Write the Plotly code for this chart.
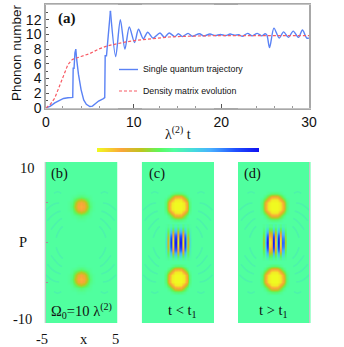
import plotly.graph_objects as go

# panel (a) values
t_jump = [0, 0.5, 1, 1.5, 2, 2.5, 3.05, 3.1, 3.2, 3.3, 3.4, 3.5, 3.7, 4.0, 4.3, 4.6, 5, 5.3, 5.6, 6, 6.5, 6.7, 6.75, 6.9, 7.0, 7.2, 7.35]
n_jump = [0, 0.25, 0.7, 1.05, 1.3, 1.4, 1.45, 5.4, 5.4, 7.5, 8.0, 6.6, 4.6, 2.5, 1.1, 0.5, 0.2, 0.25, 0.55, 0.95, 1.25, 1.4, 7.1, 7.1, 8.5, 12, 13.2]
t_osc = [7.35, 7.95, 8.48, 9.0, 9.5, 10.1, 10.55, 11.1, 11.6, 12.2, 13, 13.5, 14.05, 14.7, 15.1, 15.55, 16.2, 16.7, 17.5, 18, 18.7, 19.3, 19.9, 20.5, 21, 21.5, 22, 22.4, 23, 23.5, 24.1, 24.6, 25, 25.2, 25.5, 26, 26.6, 27.1, 27.65, 28.2, 28.8, 29.25, 29.75, 30]
n_osc = [13.2, 7.0, 12, 8.0, 11, 8.9, 10.7, 9.4, 10.3, 9.5, 10.2, 9.6, 10.2, 9.7, 10.1, 9.7, 10.15, 9.75, 10.1, 9.8, 10.05, 9.85, 10, 9.85, 10.05, 9.9, 9.95, 9.75, 10.15, 9.8, 10.15, 9.8, 10.1, 9.9, 8.2, 10.85, 9.5, 10.35, 9.6, 10.45, 9.6, 10.6, 9.5, 9.5]
t_dm = [0, 0.5, 1, 1.5, 2, 2.5, 3, 3.5, 4, 5, 6, 7, 8, 9, 10, 12, 14, 16, 18, 20, 22, 25, 30]
n_dm = [0, 0.5, 1.35, 2.9, 4.5, 5.9, 6.6, 6.85, 7.0, 7.4, 8.0, 8.45, 8.75, 8.95, 9.15, 9.4, 9.65, 9.75, 9.85, 9.85, 9.85, 9.85, 9.85]

# Wigner panels, small grids around each feature (0 = yellow end, 1 = blue end)
blob_axis = [-2, -1.6, -1.2, -0.8, -0.4, 0, 0.4, 0.8, 1.2, 1.6, 2]
blob_b = [
    [.47, .47, .47, .47, .47, .47, .47, .47, .47, .47, .47],
    [.47, .47, .47, .47, .46, .46, .46, .47, .47, .47, .47],
    [.47, .47, .46, .45, .43, .41, .43, .45, .46, .47, .47],
    [.47, .47, .45, .38, .31, .27, .31, .38, .45, .47, .47],
    [.47, .46, .43, .31, .19, .15, .19, .31, .43, .46, .47],
    [.47, .46, .41, .27, .15, .13, .15, .27, .41, .46, .47],
    [.47, .46, .43, .31, .19, .15, .19, .31, .43, .46, .47],
    [.47, .47, .45, .38, .31, .27, .31, .38, .45, .47, .47],
    [.47, .47, .46, .45, .43, .41, .43, .45, .46, .47, .47],
    [.47, .47, .47, .47, .46, .46, .46, .47, .47, .47, .47],
    [.47, .47, .47, .47, .47, .47, .47, .47, .47, .47, .47],
]
blob_cd = [
    [.47, .47, .47, .47, .47, .47, .47, .47, .47, .47, .47],
    [.47, .47, .47, .44, .41, .40, .41, .44, .47, .47, .47],
    [.47, .47, .42, .30, .17, .15, .17, .30, .42, .47, .47],
    [.47, .44, .30, .15, .03, .02, .03, .15, .30, .44, .47],
    [.47, .41, .17, .03, 0, 0, 0, .03, .17, .41, .47],
    [.47, .40, .15, .02, 0, 0, 0, .02, .15, .40, .47],
    [.47, .41, .17, .03, 0, 0, 0, .03, .17, .41, .47],
    [.47, .44, .30, .15, .03, .02, .03, .15, .30, .44, .47],
    [.47, .47, .42, .30, .17, .15, .17, .30, .42, .47, .47],
    [.47, .47, .47, .44, .41, .40, .41, .44, .47, .47, .47],
    [.47, .47, .47, .47, .47, .47, .47, .47, .47, .47, .47],
]
fringe_x = [-1.92, -1.75, -1.58, -1.42, -1.25, -1.08, -0.92, -0.75, -0.58, -0.42, -0.25, -0.08, 0.08, 0.25, 0.42, 0.58, 0.75, 0.92, 1.08, 1.25, 1.42, 1.58, 1.75, 1.92]
fringe_p = [-2, -1.5, -1, -0.5, 0, 0.5, 1, 1.5, 2]
c_r0 = [.47, .55, .58, .25, .22, .92, .92, .03, .03, .97, .97, .02, .02, .97, .97, .03, .03, .92, .92, .22, .25, .58, .55, .47]
c_r1 = [.47, .54, .57, .27, .245, .875, .875, .07, .07, .92, .92, .07, .07, .92, .92, .07, .07, .875, .875, .245, .27, .57, .54, .47]
c_r2 = [.47, .52, .54, .33, .31, .76, .76, .18, .18, .795, .795, .18, .18, .795, .795, .18, .18, .76, .76, .31, .33, .54, .52, .47]
c_r3 = [.47, .50, .51, .39, .38, .63, .63, .315, .315, .645, .645, .31, .31, .645, .645, .315, .315, .63, .63, .38, .39, .51, .50, .47]
c_r4 = [.47, .475, .48, .455, .45, .50, .50, .44, .44, .505, .505, .44, .44, .505, .505, .44, .44, .50, .50, .45, .455, .48, .475, .47]
d_r0 = [.47, .47, .32, .28, .50, .95, .95, .05, .03, .10, .97, .97, .08, .08, .97, .97, .03, .03, .82, .80, .30, .32, .47, .47]
d_r1 = [.47, .47, .335, .30, .50, .90, .90, .09, .07, .14, .92, .92, .12, .12, .92, .92, .07, .07, .785, .77, .32, .335, .47, .47]
d_r2 = [.47, .47, .37, .35, .49, .78, .78, .20, .18, .23, .795, .795, .22, .22, .795, .795, .18, .18, .70, .685, .36, .37, .47, .47]
d_r3 = [.47, .47, .42, .40, .48, .64, .64, .32, .32, .34, .645, .645, .33, .33, .645, .645, .32, .32, .59, .585, .41, .42, .47, .47]
d_r4 = [.47, .47, .46, .455, .47, .50, .50, .44, .44, .445, .505, .505, .445, .445, .505, .505, .44, .44, .495, .49, .46, .46, .47, .47]
fringe_c = [c_r4, c_r3, c_r2, c_r1, c_r0, c_r1, c_r2, c_r3, c_r4]
fringe_d = [d_r4, d_r3, d_r2, d_r1, d_r0, d_r1, d_r2, d_r3, d_r4]

# faint ripples in the background, one quadrant
ripple_x = [[2.7, 3.2, 3.7], [3.0, 3.6, 4.2, 4.8], [2.8, 3.4, 4.0, 4.6], [2.6, 3.1, 3.6, 4.1], [2.5, 2.9, 3.2, 3.4]]
ripple_p = [[6.1, 6.3, 6.1], [4.9, 4.8, 4.5, 4.0], [3.9, 3.7, 3.3, 2.7], [3.0, 2.7, 2.2, 1.6], [2.0, 1.6, 1.1, 0.6]]

bar_levels = [0, .05, .1, .15, .2, .25, .3, .35, .4, .45, .5, .55, .6, .65, .7, .75, .8, .85, .9, .95, 1]

ramp = [[0, "#f0fa20"], [.15, "#fba53a"], [.27, "#bcc61e"], [.38, "#5cf85c"], [.47, "#50ff9f"],
        [.60, "#45d8e0"], [.70, "#48b0ff"], [.85, "#2050ff"], [1, "#1010f0"]]
W, H = 344, 347


def xdom(a, b):
    return [a / W, b / W]


def ydom(top, bottom):
    return [1 - bottom / H, 1 - top / H]


fig = go.Figure()
fig.add_trace(go.Scatter(x=t_jump, y=n_jump, mode="lines", line=dict(color="#5a82f5", width=1.4)))
fig.add_trace(go.Scatter(x=t_osc, y=n_osc, mode="lines", line=dict(color="#5a82f5", width=1.4, shape="spline", smoothing=0.8)))
fig.add_trace(go.Scatter(x=t_dm, y=n_dm, mode="lines", line=dict(color="#f85a64", width=1.2, dash="3px,2px")))


def heat(x, y, z, ax, ay):
    fig.add_trace(go.Heatmap(x=x, y=y, z=z, colorscale=ramp, zmin=0, zmax=1, zsmooth="best",
                             showscale=False, hoverinfo="skip", xaxis=ax, yaxis=ay))


for i, blob in enumerate([blob_b, blob_cd, blob_cd]):
    ax, ay = "x%d" % (i + 2), "y%d" % (i + 2)
    for sp in [1, -1]:
        for sx in [1, -1]:
            for rx, rp in zip(ripple_x, ripple_p):
                fig.add_trace(go.Scatter(x=[sx * v for v in rx], y=[sp * v for v in rp], mode="lines",
                                         line=dict(color="#4df3ab", width=1.6, shape="spline"),
                                         xaxis=ax, yaxis=ay))
    heat(blob_axis, [v + 4.5 for v in blob_axis], blob, ax, ay)
    heat(blob_axis, [v - 4.5 for v in blob_axis], blob, ax, ay)

heat(fringe_x, fringe_p, fringe_c, "x3", "y3")
heat(fringe_x, fringe_p, fringe_d, "x4", "y4")
heat(bar_levels, [0, 1], [bar_levels, bar_levels], "x5", "y5")

frame = "#a8a8a8"
fig.update_layout(
    width=W, height=H, margin=dict(l=0, r=0, t=0, b=0), showlegend=False,
    paper_bgcolor="white", plot_bgcolor="white",
    font=dict(family="Liberation Sans", color="#111111"),
    xaxis=dict(domain=xdom(46, 309), range=[0, 30], tickvals=[0, 10, 20, 30], ticks="inside", ticklen=4,
               tickcolor="#555555", linecolor=frame, linewidth=1.5, mirror=True, showgrid=False, zeroline=False,
               tickfont=dict(size=14), automargin=False),
    yaxis=dict(domain=ydom(5, 108), range=[0, 14], tickvals=[0, 2, 4, 6, 8, 10, 12, 14], ticks="inside", ticklen=3,
               tickcolor="#555555", linecolor=frame, linewidth=1.5, mirror=True, showgrid=False, zeroline=False,
               tickfont=dict(size=14), minor=dict(dtick=1, ticks="inside", ticklen=2, tickcolor="#555555"),
               automargin=False),
)
panels = [(44.5, 117.5), (141.7, 214), (238, 310.7)]
for i, (a, b) in enumerate(panels):
    fig.update_layout({
        "xaxis%d" % (i + 2): dict(domain=xdom(a, b), range=[-5, 5], tickvals=[-2.5, 0, 2.5], ticks="inside", ticklen=2,
                                  tickcolor="#999999", showticklabels=False, linecolor="#c4c4c4", linewidth=1, mirror=True,
                                  showgrid=False, zeroline=False, automargin=False),
        "yaxis%d" % (i + 2): dict(domain=ydom(162, 323), range=[-10, 10], tickvals=[-5, 0, 5], ticks="inside", ticklen=2,
                                  tickcolor="#999999", showticklabels=False, linecolor="#c4c4c4", linewidth=1, mirror=True,
                                  showgrid=False, zeroline=False, automargin=False),
    })
    fig.add_shape(type="rect", xref="x%d" % (i + 2), yref="y%d" % (i + 2), x0=-5, x1=5, y0=-10, y1=10,
                  fillcolor="#50ff9f", line_width=0, layer="below")
fig.update_layout(
    xaxis5=dict(domain=xdom(97, 259), range=[0, 1], visible=False, automargin=False),
    yaxis5=dict(domain=ydom(148, 152), range=[0, 1], visible=False, automargin=False),
)


def label(px, py, text, size=14, family="Liberation Serif", xanchor="center", **kw):
    fig.add_annotation(x=px / W, y=1 - py / H, xref="paper", yref="paper", text=text, showarrow=False,
                       xanchor=xanchor, yanchor="middle",
                       font=dict(family=family, size=size, color="#111111"), **kw)


label(16, 53, "Phonon number", size=13.5, family="Liberation Sans", textangle=-90)
label(178, 133, "λ<sup>(2)</sup> t", size=14)
label(67, 18, "<b>(a)</b>", size=15)
label(59, 173, "(b)", size=14.5)
label(156.5, 173, "(c)", size=14.5)
label(252.5, 173, "(d)", size=14.5)
label(81, 311, "Ω<sub>0</sub>=10 λ<sup>(2)</sup>", size=14.5)
label(182, 311, "t &lt; t<sub>1</sub>", size=14.5)
label(273.5, 311, "t &gt; t<sub>1</sub>", size=14.5)
label(27, 168, "10", size=14.5)
label(22, 319, "-10", size=14.5)
label(23, 241.5, "P", size=14.5)
label(42, 339, "-5", size=14.5)
label(84, 339, "x", size=14.5)
label(115, 339, "5", size=14.5)
label(141, 69.5, "Single quantum trajectory", size=8.8, family="Liberation Sans", xanchor="left")
label(141, 91, "Density matrix evolution", size=8.8, family="Liberation Sans", xanchor="left")
fig.add_shape(type="line", xref="paper", yref="paper", x0=119 / W, x1=138 / W, y0=1 - 69.5 / H, y1=1 - 69.5 / H,
              line=dict(color="#5a82f5", width=1.4))
fig.add_shape(type="line", xref="paper", yref="paper", x0=119 / W, x1=138 / W, y0=1 - 91 / H, y1=1 - 91 / H,
              line=dict(color="#f85a64", width=1.2, dash="3px,2px"))

fig.write_html("out.html", config={"displayModeBar": False}, post_script="document.body.style.margin='0';")
